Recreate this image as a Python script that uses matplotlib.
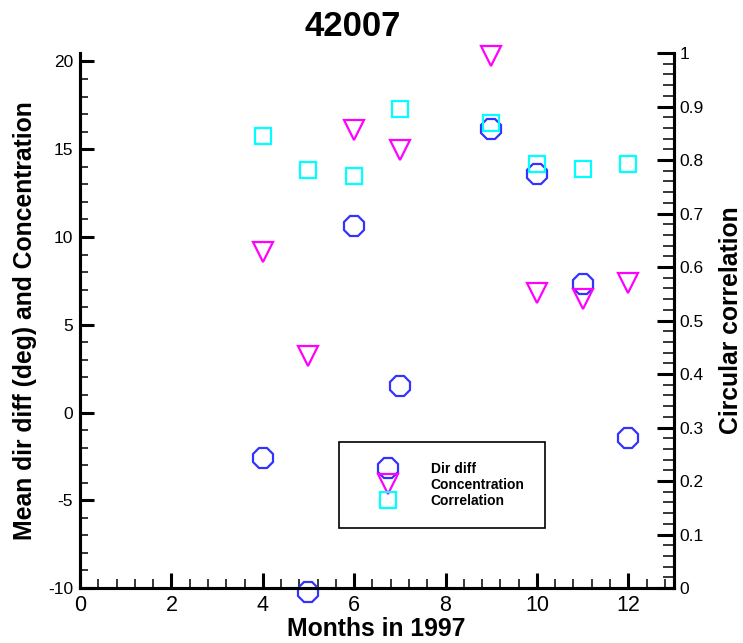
import matplotlib
matplotlib.use("Agg")
import matplotlib.pyplot as plt
from matplotlib.ticker import MultipleLocator

# data
months = [4, 5, 6, 7, 9, 10, 11, 12]
dir_diff = [-2.6, -10.25, 10.62, 1.52, 16.14, 13.6, 7.33, -1.46]
concentration = [9.13, 3.24, 16.12, 14.98, 20.3, 6.79, 6.47, 7.40]
correlation = [0.845, 0.781, 0.771, 0.896, 0.869, 0.792, 0.783, 0.792]
corr_ticklabels = ['0', '0.1', '0.2', '0.3', '0.4', '0.5', '0.6', '0.7', '0.8', '0.9', '1']

plt.rcParams['font.family'] = ['Liberation Sans', 'DejaVu Sans']
plt.rcParams['axes.unicode_minus'] = False

fig = plt.figure(figsize=(7.43, 6.43), dpi=100)
ax = fig.add_axes([0.1077, 0.0855, 0.7994, 0.8320])
ax2 = ax.twinx()

h1, = ax.plot(months, dir_diff, ls='none', marker='8', ms=15, mfc='none',
              mec='#3333ff', mew=1.6, label='Dir diff', zorder=3, clip_on=False)
h2, = ax.plot(months, concentration, ls='none', marker='v', ms=14, mfc='none',
              mec='#ff00ff', mew=1.6, label='Concentration', zorder=4, clip_on=False)
h3, = ax2.plot(months, correlation, ls='none', marker='s', ms=12, mfc='none',
               mec='#00ffff', mew=1.6, label='Correlation', zorder=5, clip_on=False)

ax.set_xlim(0, 13)
ax.set_ylim(-10, 20.48)
ax2.set_ylim(0, 1)

ax.xaxis.set_minor_locator(MultipleLocator(0.4))
ax.yaxis.set_minor_locator(MultipleLocator(1))
ax2.yaxis.set_minor_locator(MultipleLocator(0.02))
ax.set_xticks(range(0, 13, 2))
ax.set_yticks(range(-10, 21, 5))
ax2.set_yticks([i / 10 for i in range(11)])
ax2.set_yticklabels(corr_ticklabels)

for a in (ax, ax2):
    a.spines['top'].set_visible(False)
    for s in ('left', 'bottom', 'right'):
        a.spines[s].set_linewidth(2.2)

ax.tick_params(axis='x', which='major', direction='in', length=11, width=2.2,
               labelsize=15.5, pad=5)
ax.tick_params(axis='x', which='minor', direction='in', length=6.5, width=1.1)
ax.tick_params(axis='y', which='major', direction='in', length=10, width=2.2,
               labelsize=12.5, pad=5)
ax.tick_params(axis='y', which='minor', direction='in', length=6, width=1.1)
ax2.tick_params(axis='y', which='major', direction='in', length=12, width=2.2,
                labelsize=12.5, pad=4)
ax2.tick_params(axis='y', which='minor', direction='in', length=8, width=1.1)

ax.set_xlabel('Months in 1997', fontsize=17.8, fontweight='bold', va='center')
ax.xaxis.set_label_coords(0.498, -0.0766)
ax.set_ylabel('Mean dir diff (deg) and Concentration', fontsize=17.8,
              fontweight='bold', va='center')
ax.yaxis.set_label_coords(-0.093, 0.5)
ax2.set_ylabel('Circular correlation', fontsize=17.8, fontweight='bold', va='center')
ax2.yaxis.set_label_coords(1.096, 0.5)

fig.text(353 / 743, 1 - 26.5 / 643, '42007', fontsize=25, fontweight='bold',
         ha='center', va='center')

leg = ax2.legend(handles=[h1, h2, h3], loc='upper left',
                 bbox_to_anchor=(0.436, 0.273), borderaxespad=0,
                 prop={'size': 10, 'weight': 'bold'}, borderpad=1.45,
                 handlelength=4.2, handletextpad=0.94, labelspacing=0.15,
                 fancybox=False, framealpha=1, edgecolor='black')
leg.get_frame().set_linewidth(1.2)

fig.savefig('out.png', dpi=100)
